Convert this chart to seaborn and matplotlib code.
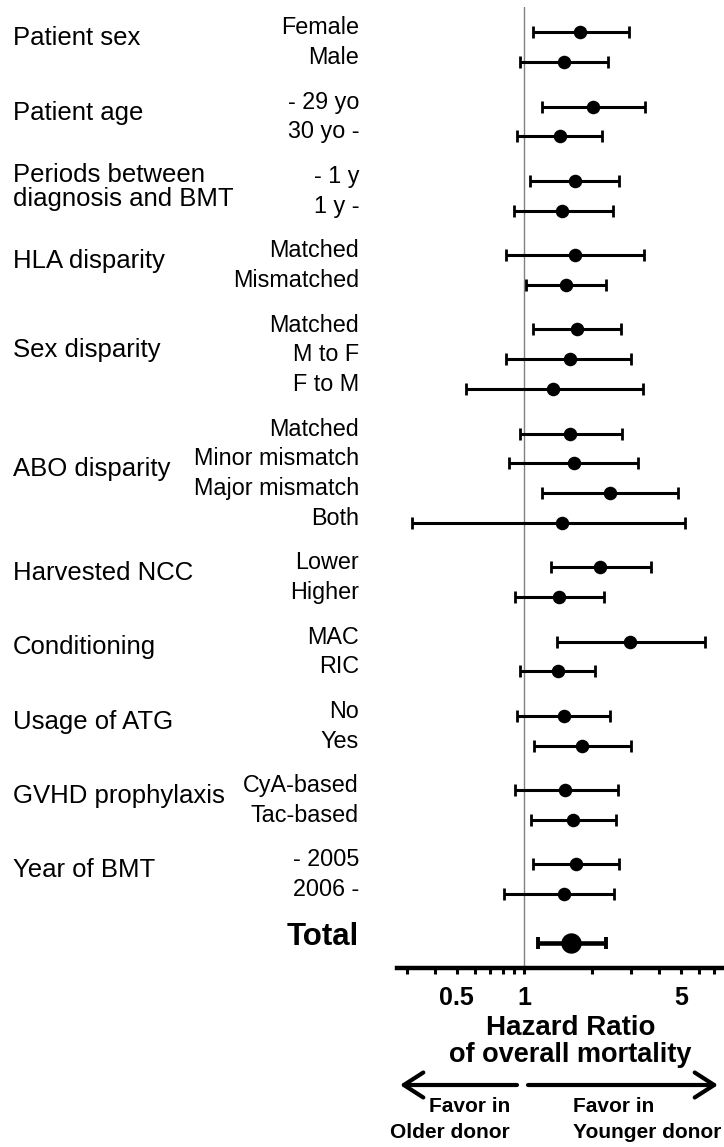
import numpy as np
import pandas as pd
import matplotlib
matplotlib.use("Agg")
import matplotlib.pyplot as plt
import seaborn as sns
from matplotlib import transforms
from matplotlib.ticker import FixedLocator, NullFormatter

# ---- data ----
groups = ["Patient sex", "Patient age", "Periods between\ndiagnosis and BMT",
          "HLA disparity", "Sex disparity", "ABO disparity", "Harvested NCC",
          "Conditioning", "Usage of ATG", "GVHD prophylaxis", "Year of BMT"]
sublabels = [["Female", "Male"],
             ["- 29 yo", "30 yo -"],
             ["- 1 y", "1 y -"],
             ["Matched", "Mismatched"],
             ["Matched", "M to F", "F to M"],
             ["Matched", "Minor mismatch", "Major mismatch", "Both"],
             ["Lower", "Higher"],
             ["MAC", "RIC"],
             ["No", "Yes"],
             ["CyA-based", "Tac-based"],
             ["- 2005", "2006 -"]]
hr = [1.78, 1.50, 2.03, 1.44, 1.68, 1.48, 1.68, 1.54, 1.72, 1.60, 1.35,
      1.60, 1.67, 2.41, 1.47, 2.18, 1.43, 2.97, 1.42, 1.50, 1.81, 1.52, 1.65, 1.71, 1.50]
lo = [1.09, 0.96, 1.20, 0.93, 1.06, 0.90, 0.83, 1.02, 1.09, 0.83, 0.55,
      0.96, 0.855, 1.20, 0.315, 1.31, 0.906, 1.395, 0.96, 0.93, 1.11, 0.906, 1.075, 1.09, 0.81]
hi = [2.94, 2.37, 3.45, 2.23, 2.66, 2.48, 3.43, 2.31, 2.71, 2.99, 3.39,
      2.74, 3.23, 4.87, 5.20, 3.69, 2.27, 6.41, 2.07, 2.41, 2.99, 2.61, 2.57, 2.66, 2.52]
total_hr, total_lo, total_hi = 1.61, 1.15, 2.31

# ---- row positions: step 1 inside a group, 1.5 between groups ----
ypos = []
group_centers = []
u = 0.0
for g, subs in zip(groups, sublabels):
    rows = [u + k for k in range(len(subs))]
    ypos.extend(rows)
    group_centers.append(np.mean(rows))
    u = rows[-1] + 1.5
y_total = ypos[-1] + 1.65

df = pd.DataFrame({"label": sum(sublabels, []), "y": ypos,
                   "hr": hr, "lo": lo, "hi": hi})

sns.set_theme(style="white")
plt.rcParams["font.family"] = ["Liberation Sans", "DejaVu Sans"]
plt.rcParams["text.color"] = "black"
plt.rcParams["xtick.color"] = "black"
plt.rcParams["xtick.labelcolor"] = "black"

fig = plt.figure(figsize=(7.24, 11.47), dpi=100)
ax = fig.add_axes([397 / 724, 179 / 1147, 325 / 724, 961 / 1147])

ax.set_xscale("log")
ax.set_xlim(0.2702, 7.631)
ax.set_ylim(31.484, -0.851)

ax.axvline(1, color="#808080", lw=1.0, zorder=1)

ax.errorbar(df["hr"], df["y"], xerr=[df["hr"] - df["lo"], df["hi"] - df["hr"]],
            fmt="none", ecolor="black", elinewidth=2.2, capsize=4, capthick=2, zorder=2)
sns.scatterplot(data=df, x="hr", y="y", color="black", s=95, edgecolor="black",
                linewidth=0, zorder=3, ax=ax, legend=False)

ax.errorbar([total_hr], [y_total], xerr=[[total_hr - total_lo], [total_hi - total_hr]],
            fmt="none", ecolor="black", elinewidth=3.3, capsize=4.5, capthick=2.8, zorder=2)
sns.scatterplot(x=[total_hr], y=[y_total], color="black", s=215, edgecolor="black",
                linewidth=0, zorder=3, ax=ax, legend=False)

# axes styling
for side in ["top", "right", "left"]:
    ax.spines[side].set_visible(False)
ax.spines["bottom"].set_linewidth(3.2)
ax.spines["bottom"].set_color("black")
ax.set_yticks([])
ax.set_xlabel("")
ax.set_ylabel("")
ax.xaxis.set_major_locator(FixedLocator([0.5, 1, 5]))
ax.set_xticklabels(["0.5", "1", "5"])
ax.xaxis.set_minor_locator(FixedLocator([0.3, 0.4, 0.6, 0.7, 0.8, 0.9, 2, 3, 4, 6, 7]))
ax.xaxis.set_minor_formatter(NullFormatter())
ax.tick_params(axis="x", which="both", bottom=True, direction="out", length=4, width=2.2,
               color="black", labelcolor="black", pad=9)
ax.tick_params(axis="x", which="major", labelsize=18)
for t in ax.get_xticklabels():
    t.set_fontweight("bold")

# labels on the left
trans = transforms.blended_transform_factory(fig.transFigure, ax.transData)
for yy, lab in zip(df["y"], df["label"]):
    ax.text(359 / 724, yy - 0.15, lab, transform=trans, ha="right", va="center",
            fontsize=16.8, color="black")
for gc, g in zip(group_centers, groups):
    ax.text(13 / 724, gc - 0.3, g, transform=trans, ha="left", va="center",
            fontsize=18.5, color="black", linespacing=1.0)
ax.text(359 / 724, y_total - 0.2, "Total", transform=trans, ha="right", va="center",
        fontsize=22.5, fontweight="bold", color="black")

# axis title and direction arrows
fig.text(571 / 724, (1147 - 1028) / 1147, "Hazard Ratio", ha="center", va="center",
         fontsize=20, fontweight="bold")
fig.text(570 / 724, (1147 - 1055) / 1147, "of overall mortality", ha="center", va="center",
         fontsize=19.5, fontweight="bold")

arrow_kw = dict(arrowstyle="->,head_length=0.7,head_width=0.45", lw=3.0, color="black",
                mutation_scale=20, shrinkA=0, shrinkB=0)
ax.annotate("", xy=(400, 1147 - 1085), xytext=(517, 1147 - 1085),
            xycoords="figure pixels", textcoords="figure pixels", arrowprops=arrow_kw,
            annotation_clip=False)
ax.annotate("", xy=(718, 1147 - 1085), xytext=(528, 1147 - 1085),
            xycoords="figure pixels", textcoords="figure pixels", arrowprops=arrow_kw,
            annotation_clip=False)

fig.text(510 / 724, (1147 - 1107) / 1147, "Favor in", ha="right", va="center",
         fontsize=15, fontweight="bold")
fig.text(510 / 724, (1147 - 1133) / 1147, "Older donor", ha="right", va="center",
         fontsize=15, fontweight="bold")
fig.text(573 / 724, (1147 - 1107) / 1147, "Favor in", ha="left", va="center",
         fontsize=15, fontweight="bold")
fig.text(573 / 724, (1147 - 1133) / 1147, "Younger donor", ha="left", va="center",
         fontsize=15, fontweight="bold")

fig.savefig("out.png", dpi=100, facecolor="white")
